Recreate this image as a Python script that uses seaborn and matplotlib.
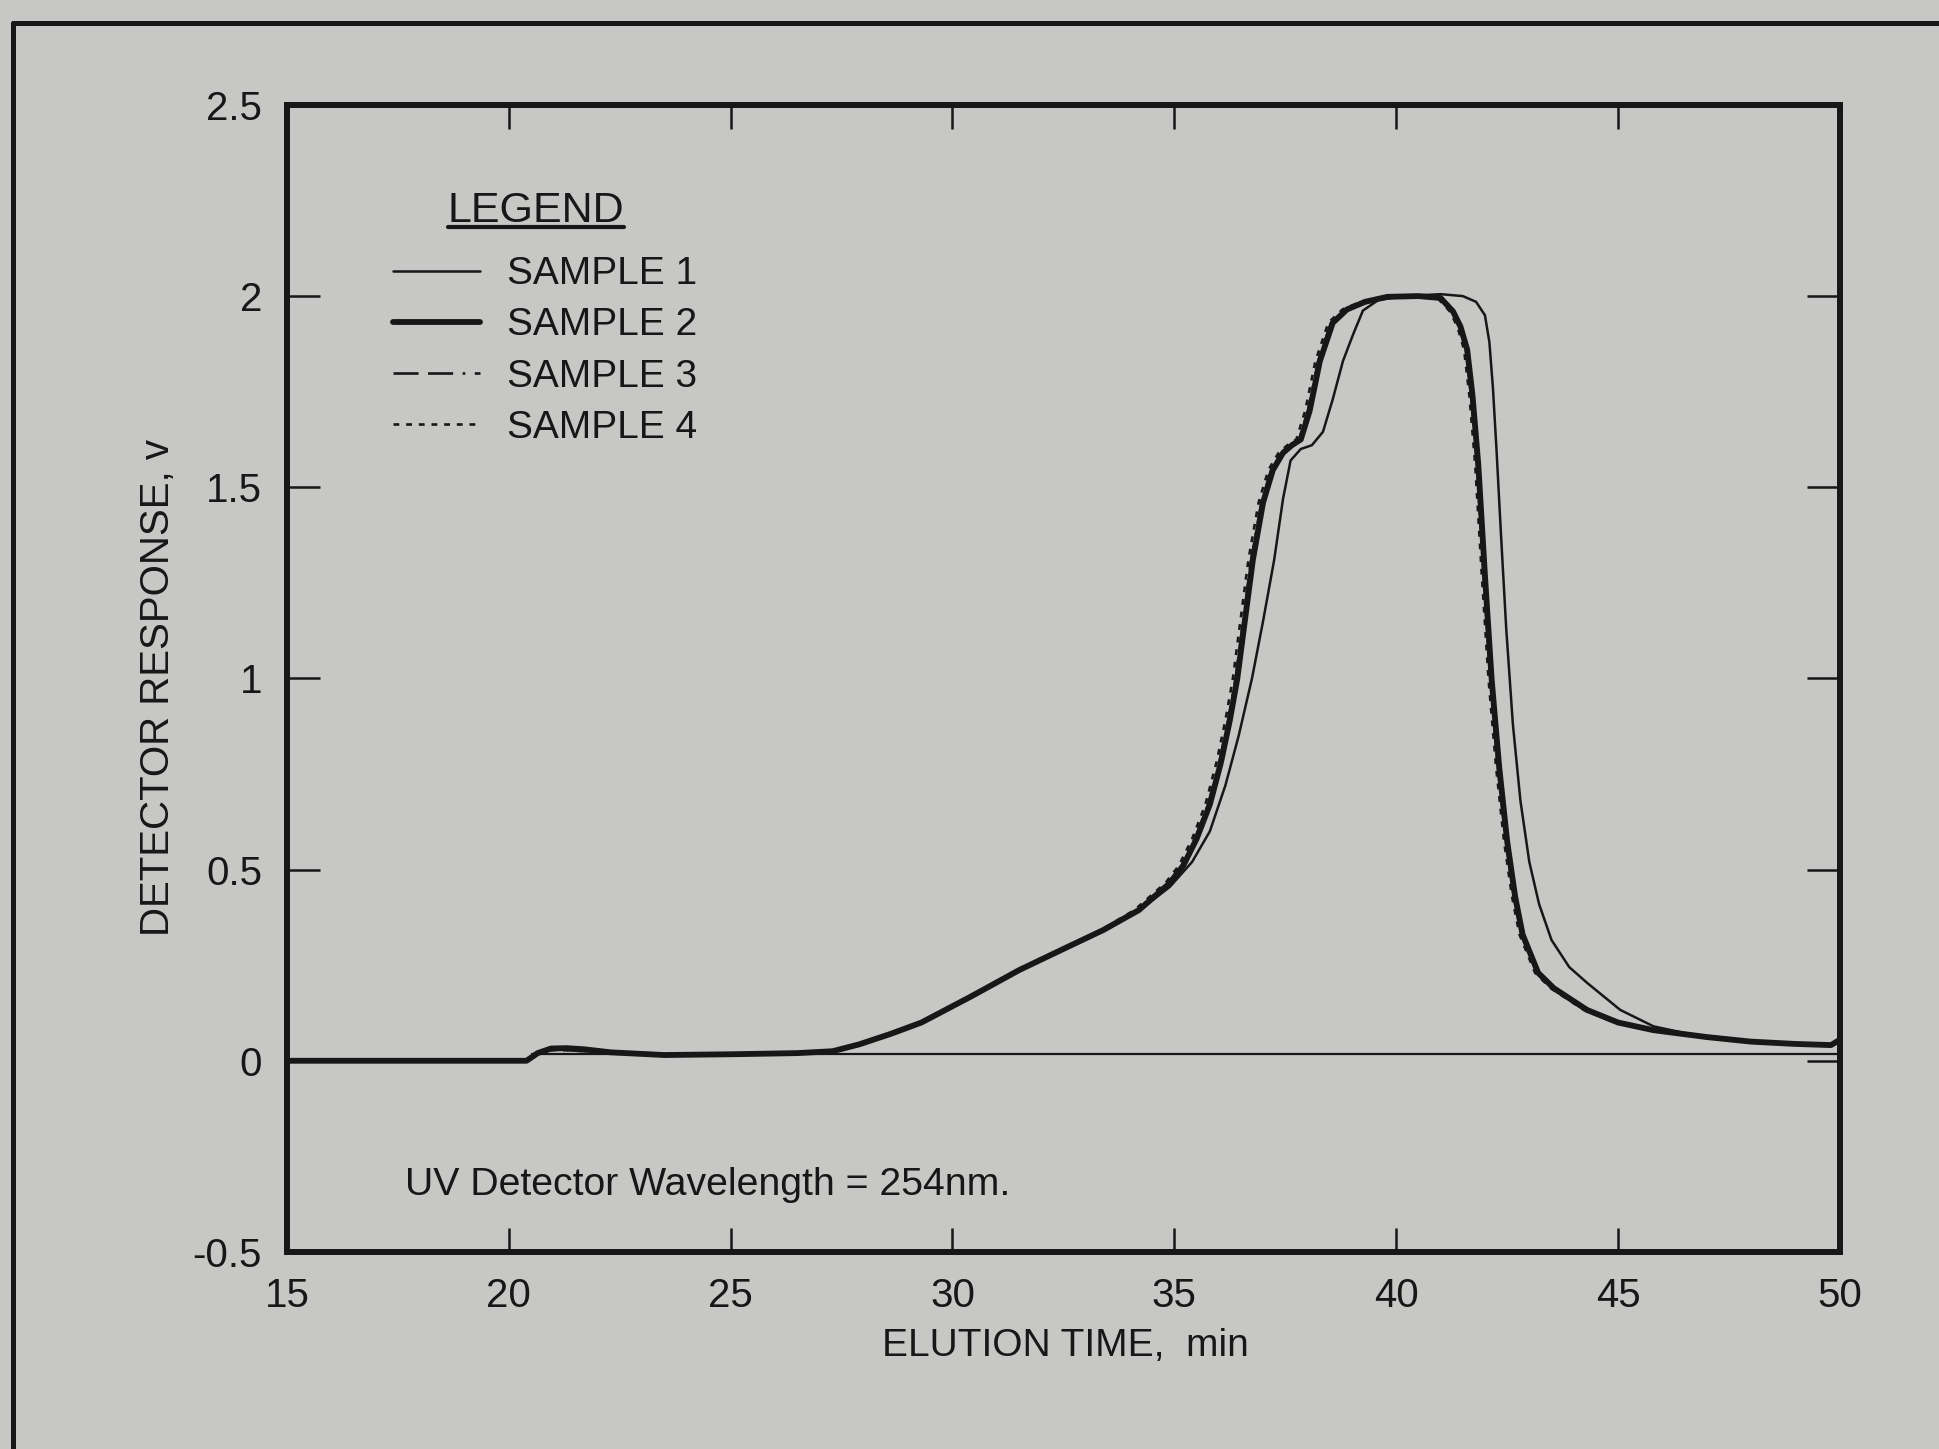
import matplotlib
matplotlib.use("Agg")
import matplotlib.pyplot as plt
import seaborn as sns
from matplotlib.lines import Line2D

# ---- chromatogram data (elution time in min, detector response in V) ----
s1_time = [15.0, 20.45, 20.7, 21.05, 21.5, 22.3, 23.8, 25.0, 26.5, 27.3,
           27.9, 28.6, 29.3, 30.4, 31.5, 32.6, 33.4, 34.2, 34.9, 35.4,
           35.8, 36.15, 36.45, 36.75, 37.0, 37.25, 37.45, 37.62, 37.85, 38.1,
           38.35, 38.57, 38.8, 39.03, 39.25, 39.6, 40.2, 41.0, 41.5, 41.8,
           42.0, 42.1, 42.18, 42.26, 42.36, 42.48, 42.63, 42.8, 43.0, 43.22,
           43.5, 43.9, 44.3, 45.05, 45.8, 46.6, 48.0, 49.0, 49.8, 50.0]
s1_resp = [0.0, 0.0, 0.02, 0.035, 0.034, 0.022, 0.015, 0.017, 0.02, 0.025,
           0.043, 0.07, 0.1, 0.167, 0.237, 0.298, 0.342, 0.392, 0.455, 0.52,
           0.6, 0.72, 0.85, 1.0, 1.15, 1.31, 1.47, 1.57, 1.6, 1.61,
           1.645, 1.73, 1.83, 1.9, 1.962, 1.99, 2.0, 2.005, 2.0, 1.985,
           1.95, 1.88, 1.76, 1.6, 1.38, 1.13, 0.88, 0.68, 0.52, 0.41,
           0.316, 0.245, 0.204, 0.133, 0.09, 0.07, 0.05, 0.044, 0.041, 0.05]

s2_time = [15.0, 20.4, 20.65, 20.95, 21.3, 21.7, 22.3, 23.5, 25.0, 26.5,
           27.3, 27.9, 28.6, 29.3, 30.4, 31.5, 32.6, 33.4, 34.2, 34.9,
           35.2, 35.5, 35.8, 36.05, 36.25, 36.42, 36.6, 36.77, 37.0, 37.22,
           37.45, 37.65, 37.85, 38.05, 38.28, 38.57, 38.89, 39.3, 39.8, 40.5,
           41.0, 41.28, 41.45, 41.6, 41.72, 41.85, 42.0, 42.15, 42.32, 42.5,
           42.68, 42.85, 43.2, 43.55, 44.3, 45.0, 45.8, 47.0, 48.0, 49.0,
           49.8, 50.0]
s2_resp = [0.0, 0.0, 0.02, 0.032, 0.033, 0.03, 0.022, 0.015, 0.017, 0.02,
           0.025, 0.043, 0.07, 0.1, 0.167, 0.237, 0.298, 0.342, 0.394, 0.465,
           0.51, 0.58, 0.67, 0.78, 0.89, 1.0, 1.16, 1.31, 1.46, 1.545,
           1.59, 1.61, 1.625, 1.70, 1.83, 1.93, 1.965, 1.985, 1.998, 2.0,
           1.995, 1.96, 1.92, 1.86, 1.74, 1.56, 1.27, 1.0, 0.77, 0.575,
           0.43, 0.33, 0.23, 0.19, 0.133, 0.1, 0.08, 0.062, 0.05, 0.044,
           0.041, 0.055]

s3_time = [15.0, 20.4, 20.65, 20.95, 21.3, 21.7, 22.3, 23.5, 25.0, 26.5,
           27.3, 27.9, 28.6, 29.3, 30.4, 31.5, 32.6, 33.4, 34.16, 34.86,
           35.16, 35.46, 35.76, 36.01, 36.21, 36.38, 36.56, 36.73, 36.96, 37.18,
           37.41, 37.61, 37.81, 38.01, 38.24, 38.53, 38.85, 39.26, 39.76, 40.5,
           40.97, 41.25, 41.42, 41.57, 41.69, 41.82, 41.97, 42.12, 42.29, 42.47,
           42.65, 42.82, 43.17, 43.52, 44.27, 44.97, 45.8, 47.0, 48.0, 49.0,
           49.8, 50.0]
s3_resp = [0.0, 0.0, 0.018, 0.028, 0.028, 0.025, 0.02, 0.015, 0.017, 0.02,
           0.025, 0.043, 0.07, 0.1, 0.167, 0.237, 0.298, 0.342, 0.394, 0.465,
           0.51, 0.58, 0.67, 0.78, 0.89, 1.0, 1.16, 1.31, 1.46, 1.545,
           1.59, 1.61, 1.625, 1.70, 1.83, 1.93, 1.965, 1.985, 1.998, 2.0,
           1.995, 1.96, 1.92, 1.86, 1.74, 1.56, 1.27, 1.0, 0.77, 0.575,
           0.43, 0.33, 0.23, 0.19, 0.133, 0.1, 0.08, 0.062, 0.05, 0.044,
           0.041, 0.055]

s4_time = [15.0, 20.4, 20.65, 20.95, 21.3, 21.7, 22.3, 23.5, 25.0, 26.5,
           27.3, 27.9, 28.6, 29.3, 30.4, 31.5, 32.6, 33.35, 34.1, 34.8,
           35.1, 35.4, 35.7, 35.95, 36.15, 36.32, 36.5, 36.67, 36.9, 37.12,
           37.35, 37.55, 37.75, 37.95, 38.18, 38.47, 38.79, 39.2, 39.7, 40.5,
           40.93, 41.21, 41.38, 41.53, 41.65, 41.78, 41.93, 42.08, 42.25, 42.43,
           42.61, 42.78, 43.13, 43.48, 44.23, 44.93, 45.75, 47.0, 48.0, 49.0,
           49.8, 50.0]
s4_resp = [0.0, 0.0, 0.018, 0.028, 0.028, 0.025, 0.02, 0.015, 0.017, 0.02,
           0.025, 0.043, 0.07, 0.1, 0.167, 0.237, 0.298, 0.342, 0.394, 0.465,
           0.51, 0.58, 0.67, 0.78, 0.89, 1.0, 1.16, 1.31, 1.46, 1.545,
           1.59, 1.61, 1.625, 1.70, 1.83, 1.93, 1.965, 1.985, 1.998, 2.0,
           1.995, 1.96, 1.92, 1.86, 1.74, 1.56, 1.27, 1.0, 0.77, 0.575,
           0.43, 0.33, 0.23, 0.19, 0.133, 0.1, 0.08, 0.062, 0.05, 0.044,
           0.041, 0.055]

sample_labels = ["SAMPLE 1", "SAMPLE 2", "SAMPLE 3", "SAMPLE 4"]

# recorder zero trace
baseline_level = 0.018
baseline_start = 20.5

x_ticks = [15, 20, 25, 30, 35, 40, 45, 50]
y_ticks = [-0.5, 0, 0.5, 1, 1.5, 2, 2.5]
y_tick_labels = ["-0.5", "0", "0.5", "1", "1.5", "2", "2.5"]

x_title = "ELUTION TIME,  min"
y_title = "DETECTOR RESPONSE, v"
note = "UV Detector Wavelength = 254nm."
legend_heading = "LEGEND"

# ---- styling ----
sns.set_theme(style="ticks")
plt.rcParams["font.family"] = ["Liberation Sans", "DejaVu Sans"]

BG = "#c7c7c5"
INK = "#171717"
FS = 28

fig = plt.figure(figsize=(19.4, 14.49), dpi=100, facecolor=BG)
ax = fig.add_axes([0.1479, 0.136, 0.8005, 0.7916], facecolor=BG)

ax.hlines(baseline_level, baseline_start, 50, color=INK, linewidth=1.6, zorder=1)

styles = [
    dict(linewidth=1.8, linestyle="-"),
    dict(linewidth=4.2, linestyle="-"),
    dict(linewidth=1.9, linestyle=(0, (9.5, 3.6, 9.5, 3.6, 1.0, 3.6))),
    dict(linewidth=1.9, linestyle=(0, (2.2, 2.6))),
]
series = [(s1_time, s1_resp), (s2_time, s2_resp), (s3_time, s3_resp), (s4_time, s4_resp)]
for (t, r), lab, st in zip(series, sample_labels, styles):
    sns.lineplot(x=t, y=r, ax=ax, color=INK, sort=False, estimator=None,
                 label=lab, zorder=3, **st)

ax.set_xlim(15, 50)
ax.set_ylim(-0.5, 2.5)
ax.set_xticks(x_ticks)
ax.set_yticks(y_ticks)
ax.set_yticklabels(y_tick_labels)

for spine in ax.spines.values():
    spine.set_visible(True)
    spine.set_linewidth(4.3)
    spine.set_color(INK)

ax.tick_params(axis="both", which="major", direction="in", top=True, right=True,
               width=1.8, color=INK, labelcolor=INK, labelsize=29, pad=18)
ax.tick_params(axis="y", length=24)
ax.tick_params(axis="x", length=17)

ax.set_xlabel(x_title, fontsize=28, color=INK)
ax.set_ylabel(y_title, fontsize=29, color=INK)
ax.xaxis.set_label_coords(0.501, -0.066)
ax.yaxis.set_label_coords(-0.0705, 0.4917)

ax.text(0.076, 0.0587, note, transform=ax.transAxes, fontsize=28.3, color=INK,
        ha="left", va="center")

leg = ax.legend(loc="upper left", bbox_to_anchor=(0.0683, 0.868), frameon=False,
                fontsize=FS, handlelength=2.24, handletextpad=0.69,
                labelspacing=0.39, borderpad=0, borderaxespad=0)
for txt in leg.get_texts():
    txt.set_color(INK)

head = ax.text(0.1603, 0.9076, legend_heading, transform=ax.transAxes, fontsize=31,
               color=INK, ha="center", va="center")

# page frame of the figure plate
fig.add_artist(Line2D([13 / 1940, 13 / 1940], [0, 1 - 23 / 1449], transform=fig.transFigure,
                      color=INK, linewidth=3.6))
fig.add_artist(Line2D([13 / 1940, 1], [1 - 23 / 1449, 1 - 23 / 1449], transform=fig.transFigure,
                      color=INK, linewidth=3.6))

# underline under the legend heading
fig.canvas.draw()
bb = head.get_window_extent().transformed(fig.transFigure.inverted())
fig.add_artist(Line2D([bb.x0, bb.x1], [bb.y0 + 0.003, bb.y0 + 0.003],
                      transform=fig.transFigure, color=INK, linewidth=3.0))

fig.savefig("out.png", dpi=100, facecolor=BG)
